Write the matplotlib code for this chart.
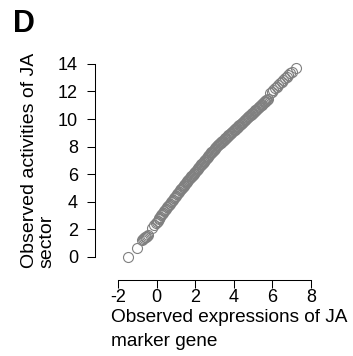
import matplotlib
matplotlib.use("Agg")
from matplotlib import pyplot as plt

plt.rcParams['font.family'] = ['Liberation Sans', 'DejaVu Sans']
plt.rcParams['axes.unicode_minus'] = False

# observed expressions of JA marker gene (x) vs observed activities of JA sector (y)
expr = [-1.47, -1.03,
	-0.74, -0.68, -0.63, -0.58, -0.54, -0.50, -0.45, -0.22, -0.12,
	-0.05, 0.00, 0.05, 0.10, 0.15, 0.20, 0.25, 0.30, 0.35, 0.40,
	0.45, 0.50, 0.55, 0.60, 0.65, 0.70, 0.75, 0.80, 0.85, 0.90,
	0.95, 1.00, 1.05, 1.10, 1.15, 1.20,
	1.24, 1.28, 1.32, 1.36, 1.40, 1.44, 1.48, 1.52, 1.56, 1.60,
	1.64, 1.68, 1.72, 1.76, 1.80, 1.84, 1.88, 1.92, 1.96, 2.00,
	2.04, 2.08, 2.12, 2.16, 2.20, 2.24, 2.28, 2.32, 2.36, 2.40,
	2.44, 2.48, 2.52, 2.56, 2.60, 2.64, 2.68, 2.72, 2.76, 2.80,
	2.84, 2.88, 2.92, 2.96, 3.00, 3.04, 3.08,
	3.12, 3.16, 3.20, 3.24, 3.28, 3.32, 3.36, 3.40, 3.44, 3.48,
	3.52, 3.56, 3.60, 3.64, 3.68, 3.72, 3.76, 3.80, 3.84, 3.88,
	3.92, 3.96, 4.00, 4.04, 4.08, 4.12, 4.16, 4.20, 4.24, 4.28,
	4.32, 4.36, 4.40, 4.44, 4.48, 4.52, 4.56, 4.60, 4.64, 4.68,
	4.72, 4.76, 4.80, 4.84, 4.88, 4.92, 4.96, 5.00, 5.04, 5.08,
	5.12, 5.16, 5.20, 5.24, 5.28, 5.32, 5.36, 5.40, 5.44, 5.48,
	5.52, 5.56, 5.60, 5.64, 5.68, 5.72, 5.76,
	5.88, 5.96, 6.05, 6.13, 6.22, 6.31, 6.40, 6.48, 6.56, 6.65,
	6.74, 6.82, 6.92, 7.00, 7.22]

activity = [0.00, 0.63,
	1.22, 1.30, 1.36, 1.42, 1.48, 1.52, 1.58, 2.12, 2.30,
	2.45, 2.55, 2.64, 2.73, 2.84, 2.93, 3.02, 3.11, 3.22, 3.31,
	3.40, 3.49, 3.60, 3.69, 3.78, 3.87, 3.98, 4.07, 4.16, 4.25,
	4.36, 4.45, 4.54, 4.63, 4.74, 4.83,
	4.90, 4.96, 5.03, 5.10, 5.17, 5.23, 5.30, 5.37, 5.43, 5.50,
	5.57, 5.63, 5.70, 5.77, 5.84, 5.90, 5.97, 6.04, 6.10, 6.17,
	6.24, 6.30, 6.37, 6.44, 6.51, 6.57, 6.64, 6.71, 6.77, 6.84,
	6.91, 6.97, 7.04, 7.11, 7.18, 7.24, 7.31, 7.38, 7.44, 7.51,
	7.58, 7.64, 7.71, 7.78, 7.85, 7.91, 7.98,
	8.03, 8.08, 8.13, 8.18, 8.24, 8.29, 8.34, 8.39, 8.44, 8.50,
	8.55, 8.60, 8.65, 8.70, 8.76, 8.81, 8.86, 8.91, 8.96, 9.02,
	9.07, 9.12, 9.17, 9.22, 9.28, 9.33, 9.38, 9.43, 9.48, 9.54,
	9.59, 9.64, 9.69, 9.74, 9.80, 9.85, 9.90, 9.95, 10.00, 10.06,
	10.11, 10.16, 10.21, 10.26, 10.32, 10.37, 10.42, 10.47, 10.52, 10.58,
	10.63, 10.68, 10.73, 10.78, 10.84, 10.89, 10.94, 10.99, 11.04, 11.10,
	11.15, 11.20, 11.25, 11.30, 11.36, 11.41, 11.46,
	11.85, 11.98, 12.10, 12.22, 12.34, 12.46, 12.58, 12.70, 12.82, 12.95,
	13.07, 13.19, 13.30, 13.43, 13.72]

xticks = [-2, 0, 2, 4, 6, 8]
yticks = [0, 2, 4, 6, 8, 10, 12, 14]

W, H = 353, 356
fig = plt.figure(figsize=(W / 100, H / 100), dpi=100)
# plot box in pixels: left 110, right 320, top 55, bottom 265
ax = fig.add_axes([110 / W, 1 - 265 / H, 210 / W, 210 / H])

ax.plot(expr, activity, linestyle='none', marker='o', markersize=7.2,
	markerfacecolor='none', markeredgecolor='#808080', markeredgewidth=0.8)

ax.set_xlim(-2.4145, 8.466)
ax.set_ylim(-0.580, 14.638)

for side in ['top', 'right']:
	ax.spines[side].set_visible(False)
for side in ['left', 'bottom']:
	ax.spines[side].set_position(('outward', 10.8))
	ax.spines[side].set_linewidth(0.75)
ax.spines['left'].set_bounds(0, 14)
ax.spines['bottom'].set_bounds(-2, 8)

ax.set_xticks(xticks)
ax.set_yticks(yticks)
ax.tick_params(axis='both', direction='out', length=5.8, width=0.75, labelsize=13)
ax.tick_params(axis='y', pad=6.5)
ax.tick_params(axis='x', pad=1.0)

def px(x, y):
	return x / W, 1 - y / H

# axis labels, line by line
fig.text(*px(111, 322), 'Observed expressions of JA', fontsize=13.7, ha='left', va='baseline')
fig.text(*px(111, 346), 'marker gene', fontsize=13.7, ha='left', va='baseline')
fig.text(*px(34, 268), 'Observed activities of JA', fontsize=14, rotation=90,
	rotation_mode='anchor', ha='left', va='baseline')
fig.text(*px(51, 268), 'sector', fontsize=14, rotation=90,
	rotation_mode='anchor', ha='left', va='baseline')

fig.text(*px(13, 32), 'D', fontsize=22, fontweight='bold', ha='left', va='baseline')

fig.savefig('out.png', dpi=100)
